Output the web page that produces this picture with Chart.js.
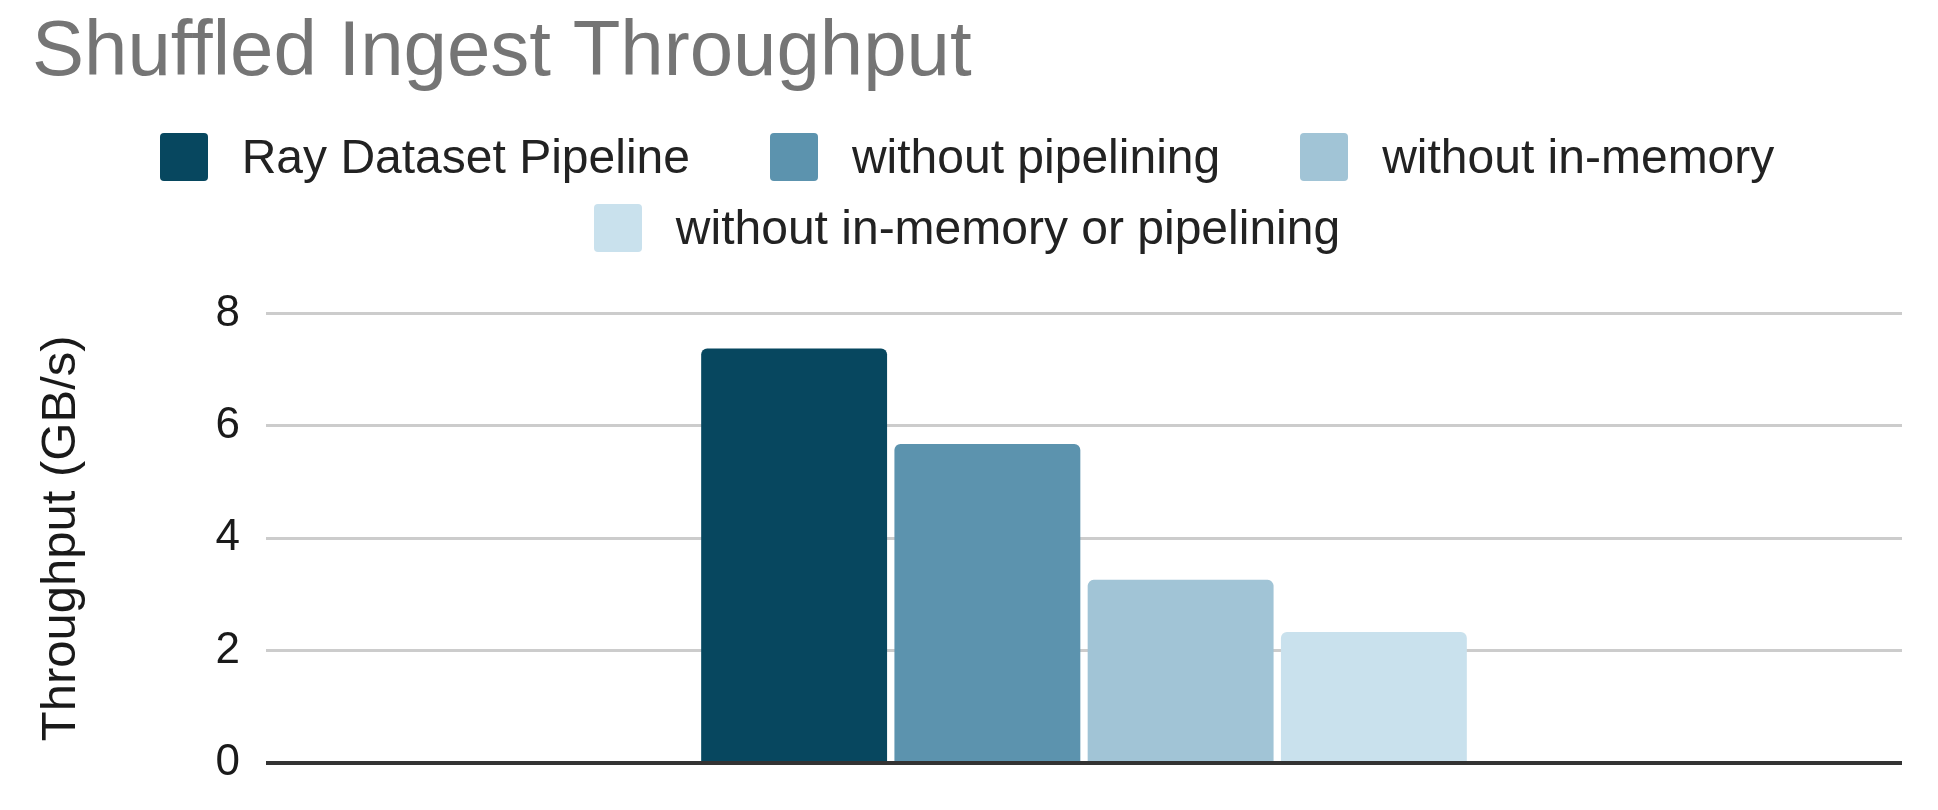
<!DOCTYPE html>
<html>
<head>
<meta charset="utf-8">
<title>Shuffled Ingest Throughput</title>
<script src="https://cdn.jsdelivr.net/npm/chart.js@4.4.1/dist/chart.umd.min.js"></script>
<style>
  html, body { margin: 0; padding: 0; background: #fff; }
  #wrap { width: 1938px; height: 810px; position: relative; }
  #legend {
    position: absolute; left: 32px; right: 36px; top: 133px;
    font-family: Arial, "Liberation Sans", sans-serif;
  }
  #legend ul {
    list-style: none; margin: 0; padding: 0;
    display: flex; flex-wrap: wrap; justify-content: center;
    row-gap: 23px; width: 1780px; margin: 0 auto;
  }
  #legend li {
    display: flex; align-items: center; height: 48px;
    margin: 0 40px;
    font-size: 48px; line-height: 48px; color: #222; white-space: nowrap;
  }
  #legend .box {
    width: 48px; height: 48px; border-radius: 4px; margin-right: 34px; flex: none;
  }
</style>
</head>
<body>
<div id="wrap">
  <canvas id="ingestChart"></canvas>
  <div id="legend"></div>
</div>
<script>
// Dane wykresu
const categories = ['Shuffled ingest'];
const seriesNames = [
    'Ray Dataset Pipeline',
    'without pipelining',
    'without in-memory',
    'without in-memory or pipelining'
];
const rayPipeline = [7.38];
const noPipelining = [5.68];
const noInMemory = [3.26];
const noInMemoryNoPipelining = [2.33];
const seriesColors = ['#07475f', '#5c93ae', '#a1c4d6', '#c9e1ed'];
const yMax = 8;
const yStep = 2;

const FONT = 'Arial, "Liberation Sans", sans-serif';
const seriesValues = [rayPipeline, noPipelining, noInMemory, noInMemoryNoPipelining];

// Legenda w HTML (odstępy jak w oryginale)
const htmlLegend = {
    id: 'htmlLegend',
    afterUpdate(chart) {
        const container = document.getElementById('legend');
        container.innerHTML = '';
        const ul = document.createElement('ul');
        const items = chart.options.plugins.legend.labels.generateLabels(chart);
        items.forEach((item) => {
            const li = document.createElement('li');
            const box = document.createElement('span');
            box.className = 'box';
            box.style.background = item.fillStyle;
            const text = document.createElement('span');
            text.textContent = item.text;
            li.appendChild(box);
            li.appendChild(text);
            ul.appendChild(li);
        });
        container.appendChild(ul);
    }
};

const ctx = document.getElementById('ingestChart').getContext('2d');

new Chart(ctx, {
    type: 'bar',
    data: {
        labels: categories,
        datasets: seriesNames.map((name, i) => ({
            label: name,
            data: seriesValues[i],
            backgroundColor: seriesColors[i],
            borderRadius: 6,
            categoryPercentage: 0.4725,
            barPercentage: 0.962
        }))
    },
    options: {
        responsive: true,
        maintainAspectRatio: false,
        animation: false,
        layout: {
            padding: { left: 32, right: 36, top: 0, bottom: 47 }
        },
        plugins: {
            title: {
                display: true,
                text: 'Shuffled Ingest Throughput',
                align: 'start',
                color: '#757575',
                font: { family: FONT, size: 78, weight: 'normal', lineHeight: 1.2 },
                padding: { top: 7, bottom: 213 }
            },
            legend: { display: false },
            tooltip: { enabled: false }
        },
        scales: {
            x: {
                grid: { display: false, drawTicks: false },
                border: { display: false },
                ticks: { display: false }
            },
            y: {
                min: 0,
                max: yMax,
                afterFit: (scale) => {
                    scale.width = 234;
                    scale.paddingTop = 0;
                    scale.paddingBottom = 0;
                },
                ticks: {
                    stepSize: yStep,
                    color: '#1a1a1a',
                    padding: 26,
                    font: { family: FONT, size: 44 }
                },
                grid: {
                    drawTicks: false,
                    color: (c) => c.tick && c.tick.value === 0 ? '#333' : '#cccccc',
                    lineWidth: (c) => c.tick && c.tick.value === 0 ? 4 : 3
                },
                border: { display: false },
                title: {
                    display: true,
                    text: 'Throughput (GB/s)',
                    color: '#1a1a1a',
                    font: { family: FONT, size: 49, lineHeight: 1.2 },
                    padding: { top: 0, bottom: 0 }
                }
            }
        }
    },
    plugins: [htmlLegend]
});
</script>
</body>
</html>
